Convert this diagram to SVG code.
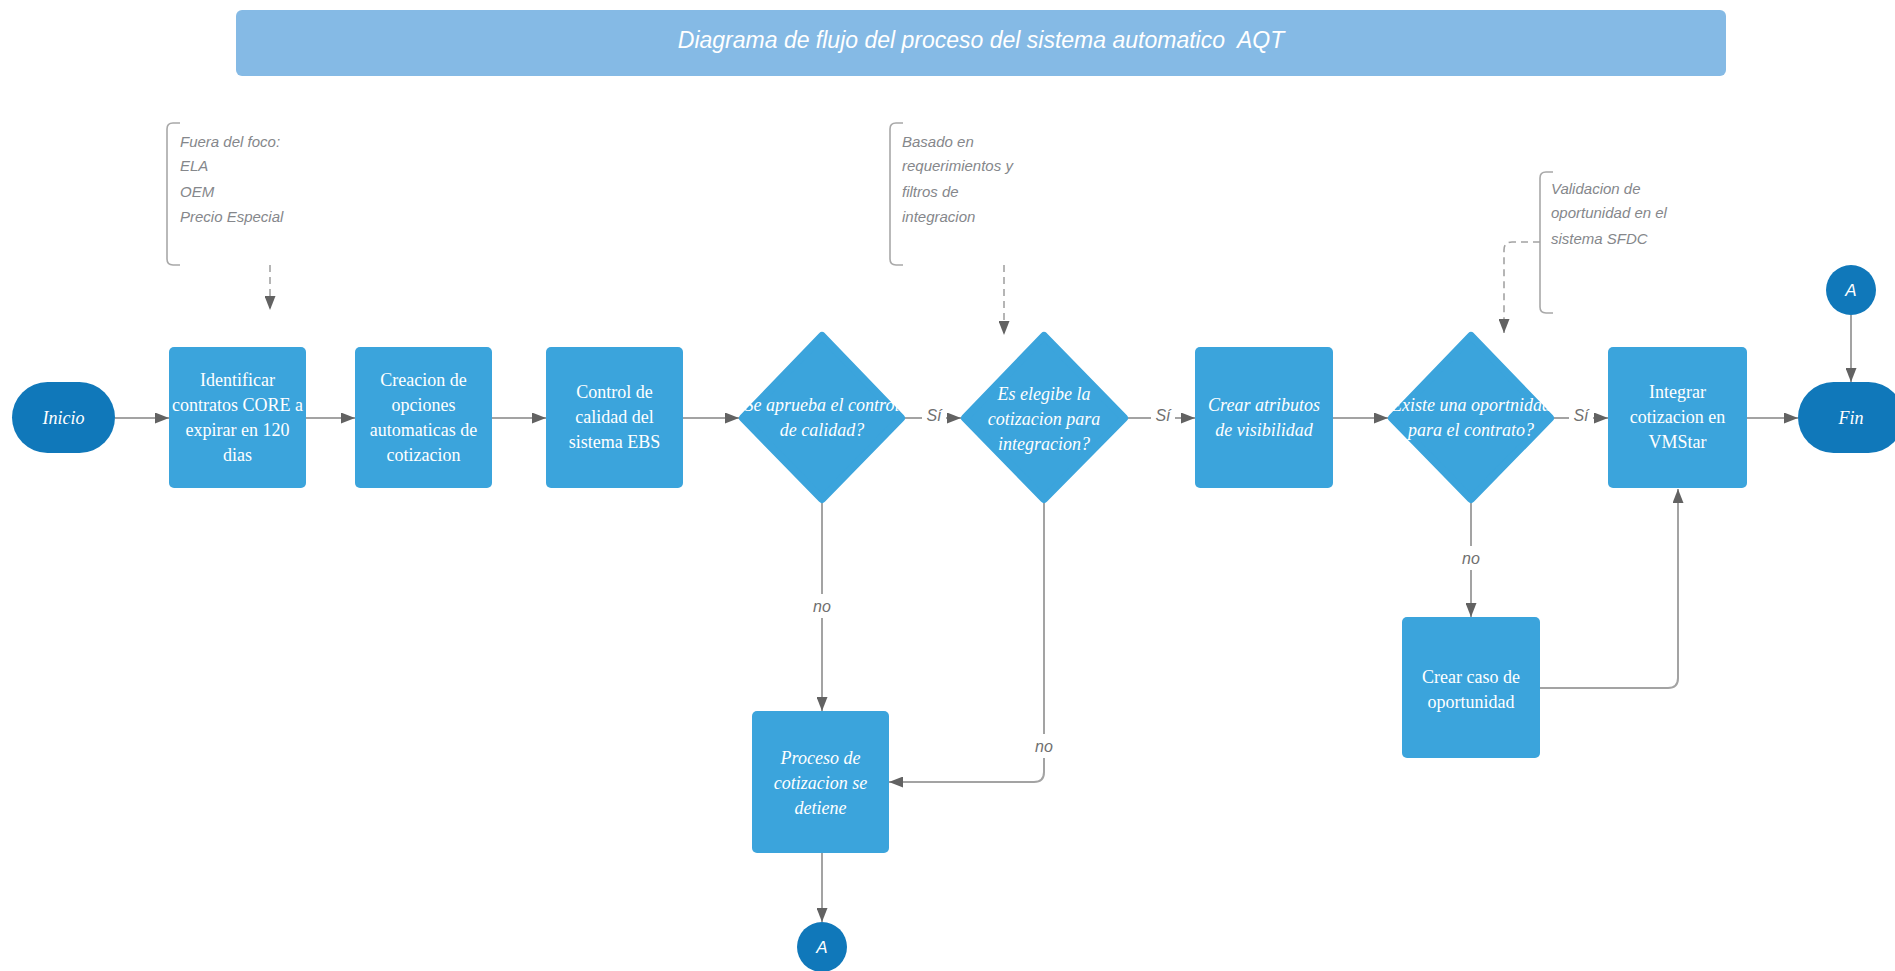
<svg xmlns="http://www.w3.org/2000/svg" width="1895" height="971" viewBox="0 0 1895 971">
  <defs>
    <marker id="arrow" markerUnits="userSpaceOnUse" markerWidth="14" markerHeight="11" refX="14" refY="5.5" orient="auto">
      <path d="M0,0 L14,5.5 L0,11 z" fill="#626262"/>
    </marker>
    <style>
      .box { fill: #3ba4dc; }
      .dia { fill: #3ba4dc; stroke: #3ba4dc; stroke-width: 8; stroke-linejoin: round; }
      .term { fill: #1078ba; }
      .txt { font-family: "Liberation Serif", "DejaVu Serif", serif; font-size: 18px; fill: #ffffff; text-anchor: middle; }
      .it { font-style: italic; }
      .note { font-family: "Liberation Sans", Arial, sans-serif; font-style: italic; font-size: 15px; fill: #85878b; }
      .lbl { font-family: "Liberation Sans", Arial, sans-serif; font-style: italic; font-size: 16px; fill: #6f6f6f; text-anchor: middle; }
      .circ { font-family: "Liberation Sans", Arial, sans-serif; font-style: italic; font-size: 17px; fill: #ffffff; text-anchor: middle; }
      .line { fill: none; stroke: #a3a3a3; stroke-width: 2; }
      .dash { fill: none; stroke: #a3a3a3; stroke-width: 1.6; stroke-dasharray: 7 5; }
      .brk { fill: none; stroke: #a8a8a8; stroke-width: 1.6; }
    </style>
  </defs>
  <rect width="1895" height="971" fill="#ffffff"/>

  <!-- title banner -->
  <g id="title">
    <rect x="236" y="10" width="1490" height="66" rx="6" fill="#85bae5"/>
    <text x="981" y="48" xml:space="preserve" font-family="Liberation Sans, Arial, sans-serif" font-style="italic" font-size="23" fill="#ffffff" text-anchor="middle">Diagrama de flujo del proceso del sistema automatico  AQT</text>
  </g>

  <!-- annotations -->
  <g id="note-foco">
    <path class="brk" d="M180,123 h-7 q-6,0 -6,6 v130 q0,6 6,6 h7"/>
    <text class="note" x="180" y="147">Fuera del foco:</text>
    <text class="note" x="180" y="171">ELA</text>
    <text class="note" x="180" y="197">OEM</text>
    <text class="note" x="180" y="222">Precio Especial</text>
  </g>
  <g id="note-filtros">
    <path class="brk" d="M903,123 h-7 q-6,0 -6,6 v130 q0,6 6,6 h7"/>
    <text class="note" x="902" y="147">Basado en</text>
    <text class="note" x="902" y="171">requerimientos y</text>
    <text class="note" x="902" y="197">filtros de</text>
    <text class="note" x="902" y="222">integracion</text>
  </g>
  <g id="note-sfdc">
    <path class="brk" d="M1553,172 h-7 q-6,0 -6,6 v129 q0,6 6,6 h7"/>
    <text class="note" x="1551" y="194">Validacion de</text>
    <text class="note" x="1551" y="218">oportunidad en el</text>
    <text class="note" x="1551" y="244">sistema SFDC</text>
  </g>

  <!-- connectors -->
  <g id="connectors">
    <path class="dash" d="M270,265 V310" marker-end="url(#arrow)"/>
    <path class="dash" d="M1004,265 V335" marker-end="url(#arrow)"/>
    <path class="dash" d="M1540,242 H1512 q-8,0 -8,8 V333" marker-end="url(#arrow)"/>

    <path class="line" d="M115,418 H169" marker-end="url(#arrow)"/>
    <path class="line" d="M306,418 H355" marker-end="url(#arrow)"/>
    <path class="line" d="M492,418 H546" marker-end="url(#arrow)"/>
    <path class="line" d="M683,418 H739" marker-end="url(#arrow)"/>
    <path class="line" d="M905,418 H961" marker-end="url(#arrow)"/>
    <path class="line" d="M1128,418 H1195" marker-end="url(#arrow)"/>
    <path class="line" d="M1333,418 H1388" marker-end="url(#arrow)"/>
    <path class="line" d="M1554,418 H1608" marker-end="url(#arrow)"/>
    <path class="line" d="M1747,418 H1798" marker-end="url(#arrow)"/>
    <path class="line" d="M1851,315 V382" marker-end="url(#arrow)"/>

    <path class="line" d="M822,503 V711" marker-end="url(#arrow)"/>
    <path class="line" d="M1044,503 V772 q0,10 -10,10 H889" marker-end="url(#arrow)"/>
    <path class="line" d="M822,853 V922" marker-end="url(#arrow)"/>
    <path class="line" d="M1471,503 V617" marker-end="url(#arrow)"/>
    <path class="line" d="M1540,688 H1668 q10,0 10,-10 V489" marker-end="url(#arrow)"/>

    <rect x="922" y="404" width="24" height="22" fill="#ffffff"/>
    <text class="lbl" x="934" y="421">Sí</text>
    <rect x="1151" y="404" width="24" height="22" fill="#ffffff"/>
    <text class="lbl" x="1163" y="421">Sí</text>
    <rect x="1569" y="404" width="24" height="22" fill="#ffffff"/>
    <text class="lbl" x="1581" y="421">Sí</text>
    <rect x="810" y="594" width="24" height="24" fill="#ffffff"/>
    <text class="lbl" x="822" y="612">no</text>
    <rect x="1032" y="734" width="24" height="24" fill="#ffffff"/>
    <text class="lbl" x="1044" y="752">no</text>
    <rect x="1459" y="546" width="24" height="24" fill="#ffffff"/>
    <text class="lbl" x="1471" y="564">no</text>
  </g>

  <!-- nodes -->
  <g id="inicio">
    <rect class="term" x="12" y="382" width="103" height="71" rx="35.5"/>
    <text class="txt it" x="63.5" y="424">Inicio</text>
  </g>
  <g id="identificar">
    <rect class="box" x="169" y="347" width="137" height="141" rx="5"/>
    <text class="txt" x="237.5" y="386">Identificar</text>
    <text class="txt" x="237.5" y="411">contratos CORE a</text>
    <text class="txt" x="237.5" y="436">expirar en 120</text>
    <text class="txt" x="237.5" y="461">dias</text>
  </g>
  <g id="creacion">
    <rect class="box" x="355" y="347" width="137" height="141" rx="5"/>
    <text class="txt" x="423.5" y="386">Creacion de</text>
    <text class="txt" x="423.5" y="411">opciones</text>
    <text class="txt" x="423.5" y="436">automaticas de</text>
    <text class="txt" x="423.5" y="461">cotizacion</text>
  </g>
  <g id="control">
    <rect class="box" x="546" y="347" width="137" height="141" rx="5"/>
    <text class="txt" x="614.5" y="398">Control de</text>
    <text class="txt" x="614.5" y="423">calidad del</text>
    <text class="txt" x="614.5" y="448">sistema EBS</text>
  </g>
  <g id="aprueba">
    <polygon class="dia" points="822,336 901,418 822,499 743,418"/>
    <text class="txt it" x="822" y="411">Se aprueba el control</text>
    <text class="txt it" x="822" y="436">de calidad?</text>
  </g>
  <g id="elegible">
    <polygon class="dia" points="1044,336 1124,418 1044,499 965,418"/>
    <text class="txt it" x="1044" y="400">Es elegibe la</text>
    <text class="txt it" x="1044" y="425">cotizacion para</text>
    <text class="txt it" x="1044" y="450">integracion?</text>
  </g>
  <g id="atributos">
    <rect class="box" x="1195" y="347" width="138" height="141" rx="5"/>
    <text class="txt it" x="1264" y="411">Crear atributos</text>
    <text class="txt it" x="1264" y="436">de visibilidad</text>
  </g>
  <g id="oportunidad">
    <polygon class="dia" points="1471,336 1550,418 1471,499 1392,418"/>
    <text class="txt it" x="1471" y="411">Existe una oportnidad</text>
    <text class="txt it" x="1471" y="436">para el contrato?</text>
  </g>
  <g id="integrar">
    <rect class="box" x="1608" y="347" width="139" height="141" rx="5"/>
    <text class="txt" x="1677.5" y="398">Integrar</text>
    <text class="txt" x="1677.5" y="423">cotizacion en</text>
    <text class="txt" x="1677.5" y="448">VMStar</text>
  </g>
  <g id="fin">
    <rect class="term" x="1798" y="382" width="106" height="71" rx="35.5"/>
    <text class="txt it" x="1851" y="424">Fin</text>
  </g>
  <g id="conector-a-fin">
    <circle class="term" cx="1851" cy="290" r="25"/>
    <text class="circ" x="1851" y="296">A</text>
  </g>
  <g id="detiene">
    <rect class="box" x="752" y="711" width="137" height="142" rx="5"/>
    <text class="txt it" x="820.5" y="764">Proceso de</text>
    <text class="txt it" x="820.5" y="789">cotizacion se</text>
    <text class="txt it" x="820.5" y="814">detiene</text>
  </g>
  <g id="conector-a">
    <circle class="term" cx="822" cy="947" r="25"/>
    <text class="circ" x="822" y="953">A</text>
  </g>
  <g id="caso">
    <rect class="box" x="1402" y="617" width="138" height="141" rx="5"/>
    <text class="txt" x="1471" y="683">Crear caso de</text>
    <text class="txt" x="1471" y="708">oportunidad</text>
  </g>
</svg>
